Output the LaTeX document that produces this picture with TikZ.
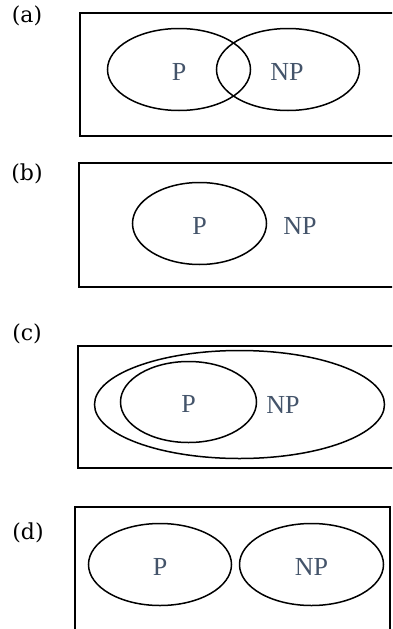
\documentclass[tikz,border=0pt]{standalone}
\usepackage{fontspec}
\setmainfont{Liberation Serif}
\newfontfamily\tagfont{DejaVu Serif}
\usetikzlibrary{shapes.geometric}
\definecolor{labelblue}{HTML}{44546A}
\tikzset{
  frame/.style={draw=black, line width=1.5pt},
  set/.style={ellipse, draw=black, line width=1.5pt, inner sep=0pt,
    text=labelblue, text height=21pt, text depth=0pt,
    font=\fontsize{26}{26}\selectfont},
  setlabel/.style={inner sep=0pt, text=labelblue, font=\fontsize{26}{26}\selectfont},
  tag/.style={inner sep=0pt, font=\tagfont\fontsize{22}{22}\selectfont}
}
\begin{document}
\begin{tikzpicture}[x=1pt, y=-1pt]
\useasboundingbox (0,0) rectangle (392,629);
\clip (0,0) rectangle (392,629);

% (a) overlapping P and NP
\node[tag] (ta) at (27,16) {(a)};
\draw[frame] (80,13) rectangle (410,136);
\node[set, minimum width=143pt, minimum height=82pt] (pa) at (179,69.5) {P};
\node[set, minimum width=143pt, minimum height=82pt] (npa) at (288,69.5) {\phantom{NP}};
\node[setlabel] (npla) at (287,71.5) {NP};

% (b) P inside NP
\node[tag] (tb) at (27,174) {(b)};
\draw[frame] (79,163) rectangle (410,287);
\node[set, minimum width=134pt, minimum height=82pt] (pb) at (199.5,223.5) {P};
\node[setlabel] (npb) at (300,226) {NP};

% (c) P strictly inside NP
\node[tag] (tc) at (27,334) {(c)};
\draw[frame] (78,346) rectangle (410,468);
\node[set, minimum width=290pt, minimum height=108pt] (npc) at (239.5,404.5) {};
\node[set, minimum width=136pt, minimum height=81pt] (pc) at (188.5,402) {P};
\node[setlabel] (nplc) at (283,405) {NP};

% (d) disjoint P and NP
\node[tag] (td) at (28,533) {(d)};
\draw[frame] (75,507) rectangle (390,660);
\node[set, minimum width=143pt, minimum height=82pt] (pd) at (160,564.5) {P};
\node[set, minimum width=144pt, minimum height=82pt] (npd) at (311.5,564.5) {NP};
\end{tikzpicture}
\end{document}
